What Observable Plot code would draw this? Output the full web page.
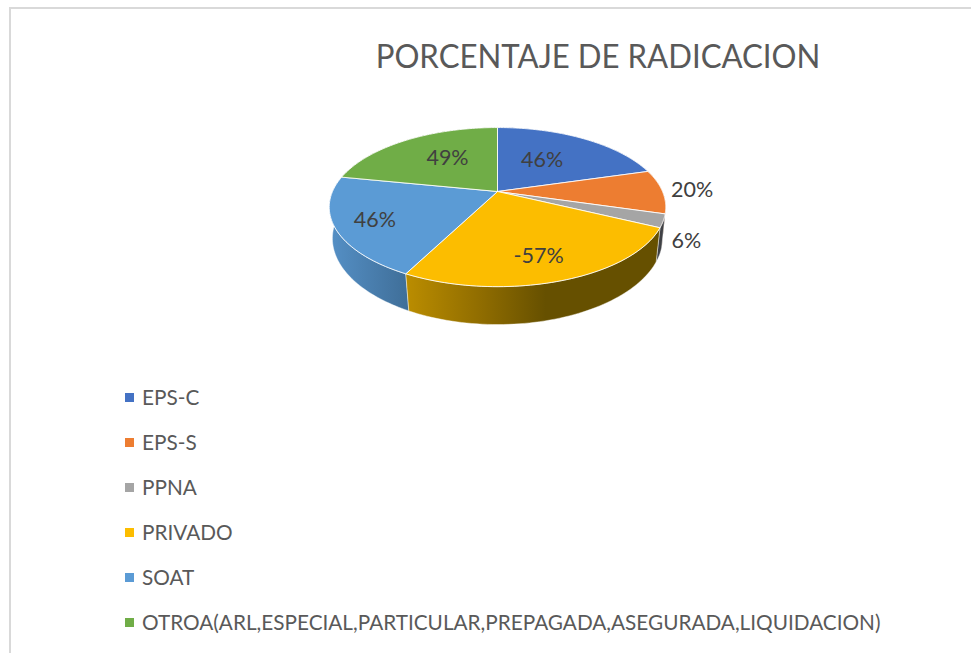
<!DOCTYPE html>
<html><head><meta charset="utf-8">
<script src="https://cdn.jsdelivr.net/npm/d3@7"></script>
<script src="https://cdn.jsdelivr.net/npm/@observablehq/plot@0.6"></script>
<style>
html,body{margin:0;padding:0;background:#fff;overflow:hidden}
body{width:971px;height:653px;position:relative;font-family:Lato,sans-serif}
#frame{position:absolute;left:9px;top:7px;width:970px;height:660px;border:2px solid #d9d9d9;box-sizing:border-box}
#title{position:relative;height:90px;width:971px;color:#595959}
#title span{position:absolute;left:598px;top:33px;transform:translateX(-50%) scaleX(0.945);white-space:nowrap;font-size:33px;line-height:44px}
#chart{height:280px;position:relative}
#chart svg{display:block;overflow:visible}
#legend{position:relative;margin-top:5px;color:#595959;font-size:20.75px}
.row{height:45px;display:flex;align-items:center;white-space:nowrap}
.row span:last-child{position:relative;top:-1px}
.sw{width:9px;height:9px;margin-left:125px;margin-right:8px;flex:none}
</style></head>
<body>
<div id="frame"></div>
<div id="title"><span>PORCENTAJE DE RADICACION</span></div>
<div id="chart"></div>
<div id="legend"></div>
<script>
const categories = ["EPS-C","EPS-S","PPNA","PRIVADO","SOAT","OTROA(ARL,ESPECIAL,PARTICULAR,PREPAGADA,ASEGURADA,LIQUIDACION)"];
const percentages = [46, 20, 6, -57, 46, 49];
const topColors = ["#4472c4","#ed7d31","#a5a5a5","#fcbd00","#5b9bd5","#70ad47"];
const sideFills = ["#2f5597","#a85a20","#3f4145","url(#sideYellow)","url(#sideBlue)","#4e7a32"];
const labelRadius = [0.52, 1.18, 1.14, 0.64, 0.755, 0.55];
const labelShift = [-4, -1, 16, 8, 1, -5];

const W = 971, H = 280, cxPx = 497, cyPx = 101, rx = 165, ry = 76.5;
const persp = 0.196, depth = 32;

const arcs = d3.pie().sort(null).value(Math.abs)(percentages);
const project = (a, f = 1) => {
  const s = 1 / (1 + persp * Math.cos(a));
  return {x: Math.sin(a) * s * f, y: -Math.cos(a) * s * f};
};
const lower = a => {
  const p = project(a), s = 1 / (1 + persp * Math.cos(a));
  return {x: p.x * (0.985 + 0.02 * Math.min(0, Math.cos(a))), y: p.y * 0.98 + depth * s / ry};
};
const arcAngles = d => d3.range(0, 61).map(i => d.startAngle + (d.endAngle - d.startAngle) * i / 60);
const topShapes = arcs.map(d => {
  const c = project(0, 0);
  return [c, ...arcAngles(d).map(a => project(a)), c];
});
const sideShapes = arcs.map(d => {
  const as = arcAngles(d), t = as.map(a => project(a)), b = as.map(lower).reverse();
  return [...t, ...b, t[0]];
});
const labels = arcs.map((d, i) => {
  const p = project((d.startAngle + d.endAngle) / 2, labelRadius[i]);
  return {x: p.x, y: p.y + labelShift[i] / ry, text: percentages[i] + "%"};
});
const order = [0, 5, 4, 1, 2, 3];

const chart = Plot.plot({
  width: W, height: H, margin: 0,
  x: {domain: [-cxPx / rx, (W - cxPx) / rx], range: [0, W], axis: null},
  y: {domain: [-cyPx / ry, (H - cyPx) / ry], range: [0, H], axis: null},
  marks: [
    ...order.map(i => Plot.line(sideShapes[i], {x: "x", y: "y", fill: sideFills[i], stroke: "#ffffff", strokeWidth: 0.8, strokeOpacity: 0.55})),
    ...topShapes.map((s, i) => Plot.line(s, {x: "x", y: "y", fill: topColors[i], stroke: "#ffffff", strokeWidth: 1, strokeOpacity: 0.85})),
    Plot.text(labels, {x: "x", y: "y", text: "text", fill: "#404040", fontSize: 21.5, fontFamily: "Lato, sans-serif"})
  ]
});
chart.style.background = "none";
const defs = d3.select(chart).insert("defs", ":first-child");
const grad = (id, stops) => {
  const g = defs.append("linearGradient").attr("id", id);
  stops.forEach(([o, c]) => g.append("stop").attr("offset", o).attr("stop-color", c));
};
grad("sideYellow", [[0, "#bb8d00"], [0.3, "#8f6c00"], [0.55, "#665000"], [1, "#665000"]]);
grad("sideBlue", [[0, "#5590c6"], [1, "#3f6e98"]]);
document.getElementById("chart").append(chart);

const legend = d3.select("#legend").selectAll("div").data(categories).join("div").attr("class", "row");
legend.append("span").attr("class", "sw").style("background", (d, i) => topColors[i]);
legend.append("span").text(d => d);
</script>
</body></html>
